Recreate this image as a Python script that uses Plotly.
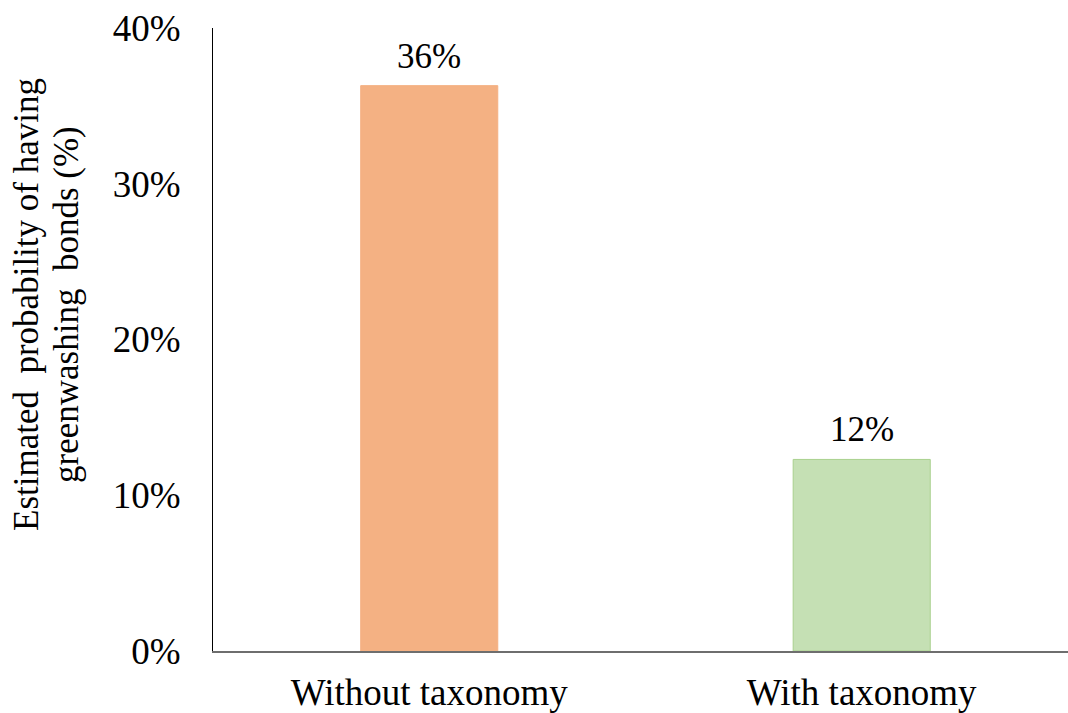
import plotly.graph_objects as go

categories = ["Without taxonomy", "With taxonomy"]
values = [36.3, 12.3]
labels = ["36%", "12%"]
colors = ["#F4B183", "#C5E0B4"]
edge_colors = ["#F4B183", "#A9D18E"]
tick_vals = [0, 10, 20, 30, 40]
tick_text = ["0%", "10%", "20%", "30%", "40%"]
title_lines = ["Estimated  probability of having", "greenwashing  bonds (%)"]

FONT = "Liberation Serif"

fig = go.Figure()
fig.add_trace(go.Bar(
    x=[0, 1], y=values,
    marker=dict(color=colors, line=dict(color=edge_colors, width=1)),
    width=0.317,
    hoverinfo="skip",
))

for i, (v, t) in enumerate(zip(values, labels)):
    fig.add_annotation(x=i, y=v, text=t, showarrow=False, yanchor="bottom",
                       yshift=8, font=dict(family=FONT, size=35, color="black"))

# two-line y-axis title, drawn as separate lines for tighter spacing
for xpx, line in zip([26, 66], title_lines):
    fig.add_annotation(
        xref="paper", yref="paper", x=(xpx - 213) / 855, y=(651 - 305) / 623,
        text=line, textangle=-90, showarrow=False, xanchor="center", yanchor="middle",
        font=dict(family=FONT, size=35, color="black"),
    )

fig.update_layout(
    width=1068, height=713,
    margin=dict(l=213, r=0, t=28, b=62, autoexpand=False),
    plot_bgcolor="white", paper_bgcolor="white",
    showlegend=False,
    font=dict(family=FONT, color="black"),
)
fig.update_xaxes(
    range=[-0.5, 1.477], tickvals=[0, 1], ticktext=categories,
    showline=True, linecolor="#6E6E6E", linewidth=2,
    showgrid=False, zeroline=False, ticks="outside", ticklen=8, tickcolor="rgba(0,0,0,0)",
    tickfont=dict(family=FONT, size=37, color="black"),
    automargin=False,
)
fig.update_yaxes(
    range=[0, 40], tickvals=tick_vals, ticktext=tick_text,
    showline=True, linecolor="black", linewidth=1,
    showgrid=False, zeroline=False, ticks="outside", ticklen=24, tickcolor="rgba(0,0,0,0)",
    tickfont=dict(family=FONT, size=37, color="black"),
    automargin=False,
)

fig.write_html("out.html")
